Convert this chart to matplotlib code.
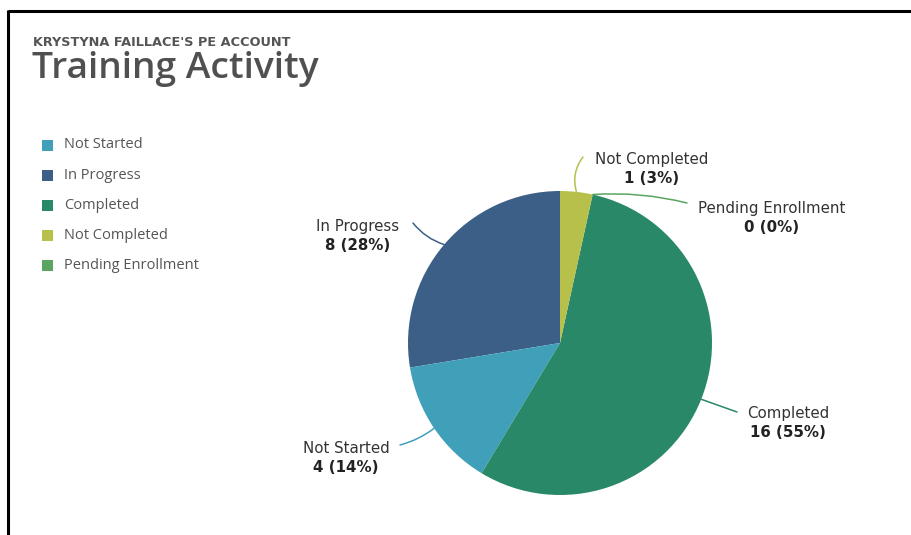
import numpy as np
import matplotlib
matplotlib.use("Agg")
import matplotlib.pyplot as plt
from matplotlib.patches import Rectangle

# ---- data ----
categories = ["Not Started", "In Progress", "Completed", "Not Completed", "Pending Enrollment"]
counts = [4, 8, 16, 1, 0]
colors = ["#40A0B9", "#3B5F87", "#288867", "#B7C04B", "#5AA55F"]
pie_order = ["In Progress", "Not Started", "Completed", "Pending Enrollment", "Not Completed"]
subtitle = "KRYSTYNA FAILLACE'S PE ACCOUNT"
title = "Training Activity"

W, H = 912, 535
fig = plt.figure(figsize=(W / 100, H / 100), dpi=100)
ax = fig.add_axes([0, 0, 1, 1])

def Y(y):
    return H - y

cx, cy, R = 560, Y(343), 152
idx = [categories.index(c) for c in pie_order]
vals = [counts[i] for i in idx]
cols = [colors[i] for i in idx]
wedges, _ = ax.pie(vals, colors=cols, startangle=90, counterclock=True,
                   center=(cx, cy), radius=R, frame=False,
                   wedgeprops=dict(linewidth=0))
ax.set_xlim(0, W)
ax.set_ylim(0, H)
ax.set_aspect("equal")
ax.axis("off")

total = sum(counts)
# label layout: (text x, text y top-down, connector end x, end y top-down, rad)
layout = {
    "In Progress": (358, 236, 413, 223, 0.15),
    "Not Started": (346, 458, 400, 445, 0.1),
    "Completed": (788, 423, 737, 412, 0.0),
    "Not Completed": (652, 169, 583, 157, 0.25),
    "Pending Enrollment": (772, 218, 687, 203, 0.08),
}
lfont = ["DejaVu Sans"]
for w, name in zip(wedges, pie_order):
    i = categories.index(name)
    ang = np.deg2rad((w.theta1 + w.theta2) / 2)
    ex, ey = cx + R * np.cos(ang), cy + R * np.sin(ang)
    tx, ty, lx, ly, rad = layout[name]
    ax.annotate("", xy=(ex, ey), xytext=(lx, Y(ly)),
                arrowprops=dict(arrowstyle="-", color=colors[i], lw=1.1,
                                shrinkA=0, shrinkB=0,
                                connectionstyle=f"arc3,rad={rad}"))
    pct = round(100 * counts[i] / total)
    ax.text(tx, Y(ty) + 9.5, name, ha="center", va="center", fontsize=10.8,
            color="#333333", family=lfont)
    ax.text(tx, Y(ty) - 9.5, f"{counts[i]} ({pct}%)", ha="center", va="center",
            fontsize=10.8, color="#222222", fontweight="bold", family=lfont)

# titles
tfont = ["Open Sans", "DejaVu Sans"]
ax.text(33, Y(42), subtitle, ha="left", va="center", fontsize=9.3,
        color="#555555", fontweight="bold", family=["DejaVu Sans"])
ax.text(32, Y(69), title, ha="left", va="center", fontsize=26.8,
        color="#505050", fontweight="semibold", family=tfont)

# legend
for k, (name, c) in enumerate(zip(categories, colors)):
    yy = 145 + 30.2 * k
    ax.add_patch(Rectangle((42, Y(yy) - 5.5), 11, 11, facecolor=c, edgecolor="none"))
    ax.text(64, Y(yy), name, ha="left", va="center", fontsize=10.5,
            color="#555555", family=tfont)

# screenshot frame
ax.plot([8, W], [Y(11), Y(11)], color="black", lw=2.2, solid_capstyle="butt")
ax.plot([8.5, 8.5], [Y(10), 0], color="black", lw=2.2, solid_capstyle="butt")

fig.savefig("out.png", dpi=100)
